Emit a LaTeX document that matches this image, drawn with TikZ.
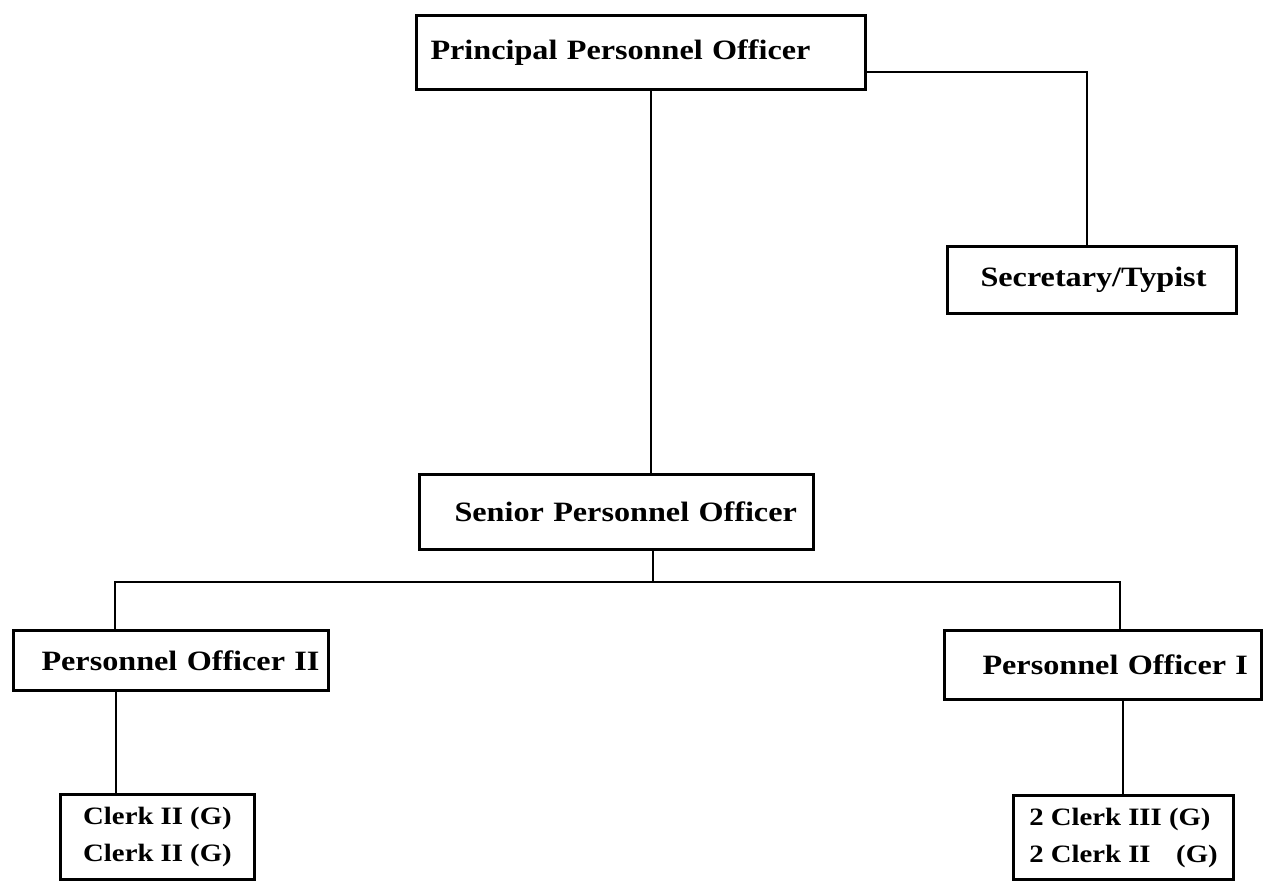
\documentclass[tikz,border=0pt]{standalone}
\usepackage{fontspec}
\newfontfamily\chartfont[FakeStretch=1.15]{Liberation Serif}
\begin{document}
\begin{tikzpicture}[x=1pt,y=-1pt,
  post/.style={draw, line width=3pt, anchor=north west, inner ysep=0pt,
    align=left, font=\chartfont\bfseries\fontsize{28}{34}\selectfont},
  clerks/.style={draw, line width=3pt, anchor=north west, inner sep=0pt,
    align=left, font=\chartfont\bfseries\fontsize{25}{37}\selectfont},
  link/.style={line width=2.7pt}]
\useasboundingbox (0,0) rectangle (1271,882);
\fill[white] (0,0) rectangle (1271,882);

% posts
\node[post, inner xsep=14pt, text width=421pt, minimum height=74pt] (ppo) at (415,14) {\mbox{Principal Personnel Officer}};
\node[post, inner xsep=33pt, text width=223pt, minimum height=67pt] (sec) at (946,245) {\mbox{Secretary/Typist}};
\node[post, inner xsep=35pt, text width=324pt, minimum height=75pt] (spo) at (418,473) {\mbox{Senior Personnel Officer}};
\node[post, inner xsep=28pt, text width=259pt, minimum height=60pt] (po2) at (12,629) {\mbox{Personnel Officer II}};
\node[post, inner xsep=38pt, text width=241pt, minimum height=69pt] (po1) at (943,629) {\mbox{Personnel Officer I}};
\node[clerks, minimum width=194pt, minimum height=85pt] (cl2) at (59,793) {Clerk II (G)\\Clerk II (G)};
\node[clerks, minimum width=220pt, minimum height=84pt] (cl1) at (1012,794) {2 Clerk III (G)\\2 Clerk II\phantom{I}\ \ (G)};

% connector columns and the branch level
\coordinate (stem) at (651,0);
\coordinate (secx) at (1087,0);
\coordinate (secy) at (0,72);
\coordinate (branch) at (653,582);
\coordinate (leftx) at (115,0);
\coordinate (rightx) at (1120,0);
\coordinate (clLx) at (116,0);
\coordinate (clRx) at (1123,0);

\draw[link] (ppo.south -| stem) -- (spo.north -| stem);
\draw[link] (ppo.east |- secy) -| (sec.north -| secx);
\draw[link] (spo.south -| branch) -- (branch);
\draw[link] (po2.north -| leftx) |- (branch) -| (po1.north -| rightx);
\draw[link] (po2.south -| clLx) -- (cl2.north -| clLx);
\draw[link] (po1.south -| clRx) -- (cl1.north -| clRx);
\end{tikzpicture}
\end{document}
